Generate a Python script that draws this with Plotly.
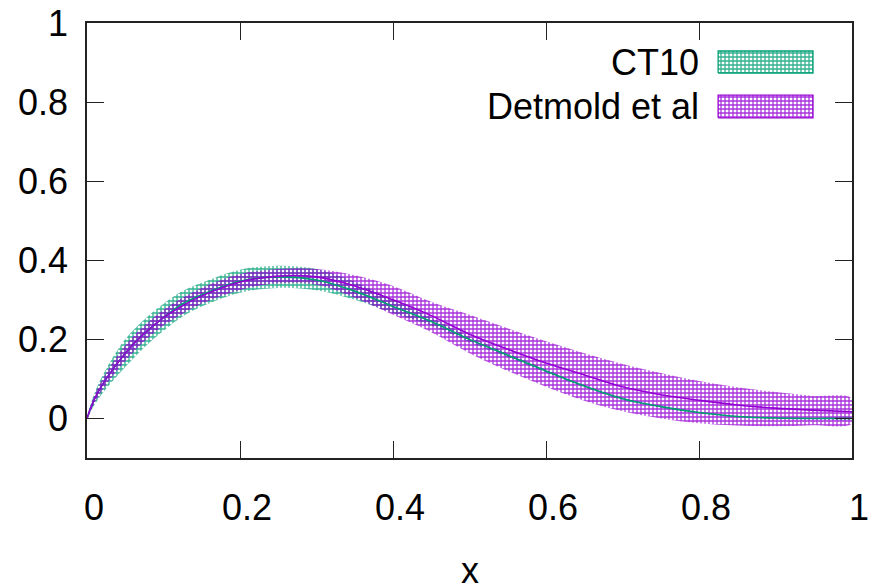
import plotly.graph_objects as go

# ---- data ----
x_vals = [0, 0.01, 0.025, 0.05, 0.075, 0.1, 0.125, 0.15, 0.2, 0.25, 0.3, 0.35, 0.4,
          0.45, 0.5, 0.55, 0.6, 0.65, 0.7, 0.75, 0.8, 0.85, 0.9, 0.95, 1.0]

ct10_center = [0, 0.05, 0.10, 0.165, 0.215, 0.255, 0.29, 0.313, 0.347, 0.358, 0.35, 0.322, 0.283,
               0.245, 0.2, 0.16, 0.12, 0.082, 0.05, 0.03, 0.015, 0.005, 0.001, 0.0, 0.0]
ct10_lower = [0, 0.035, 0.075, 0.13, 0.18, 0.222, 0.258, 0.283, 0.318, 0.33, 0.324, 0.30, 0.266,
              0.235, 0.193, 0.155, 0.116, 0.079, 0.047, 0.028, 0.013, 0.003, -0.001, -0.002, -0.002]
ct10_upper = [0, 0.065, 0.125, 0.20, 0.25, 0.29, 0.322, 0.343, 0.376, 0.386, 0.378, 0.346, 0.30,
              0.255, 0.207, 0.165, 0.124, 0.085, 0.053, 0.032, 0.017, 0.007, 0.003, 0.002, 0.002]

det_center = [0, 0.05, 0.10, 0.165, 0.215, 0.255, 0.285, 0.31, 0.345, 0.36, 0.358, 0.335, 0.30,
              0.26, 0.213, 0.175, 0.14, 0.11, 0.08, 0.06, 0.046, 0.034, 0.026, 0.021, 0.017]
det_lower = [0, 0.04, 0.085, 0.145, 0.195, 0.235, 0.265, 0.29, 0.325, 0.342, 0.338, 0.305, 0.262,
             0.218, 0.165, 0.12, 0.08, 0.045, 0.018, 0.0, -0.012, -0.018, -0.02, -0.017, -0.013]
det_upper = [0, 0.06, 0.115, 0.185, 0.235, 0.275, 0.305, 0.33, 0.365, 0.378, 0.378, 0.362, 0.335,
             0.295, 0.262, 0.228, 0.195, 0.165, 0.138, 0.115, 0.095, 0.079, 0.067, 0.057, 0.05]

series_names = ["CT10", "Detmold et al"]
x_ticks = [0, 0.2, 0.4, 0.6, 0.8, 1.0]
x_ticktext = ["0", "0.2", "0.4", "0.6", "0.8", "1"]
y_ticks = [0, 0.2, 0.4, 0.6, 0.8, 1.0]
y_ticktext = ["0", "0.2", "0.4", "0.6", "0.8", "1"]

# ---- styles ----
GREEN = "#009e73"
PURPLE = "#9400d3"
FONT = "Liberation Sans, Arial, sans-serif"
FS = 36


def pattern(color):
    return dict(shape="+", size=4, solidity=0.55, fgcolor=color, fgopacity=0.8)


def band(xs, lo, hi, color, name):
    return go.Scatter(
        x=list(xs) + list(xs)[::-1],
        y=list(hi) + list(lo)[::-1],
        fill="toself", fillcolor="rgba(0,0,0,0)", fillpattern=pattern(color),
        line=dict(width=0, shape="spline"), mode="lines", name=name, showlegend=False,
        hoverinfo="skip")


fig = go.Figure()
fig.add_trace(band(x_vals, ct10_lower, ct10_upper, GREEN, series_names[0]))
fig.add_trace(band(x_vals, det_lower, det_upper, PURPLE, series_names[1]))
fig.add_trace(go.Scatter(x=x_vals, y=ct10_center, mode="lines",
                         line=dict(color=GREEN, width=1.6, shape="spline"), showlegend=False))
fig.add_trace(go.Scatter(x=x_vals, y=det_center, mode="lines",
                         line=dict(color=PURPLE, width=1.6, shape="spline"), showlegend=False))

# ---- gnuplot-style key (text left, patterned sample right) on a helper axis in plot-fraction units ----
key_x0, key_x1 = 0.825, 0.949
key_rows = [(0.885, 0.9356, GREEN), (0.782, 0.834, PURPLE)]
for (y0, y1, col), name in zip(key_rows, series_names):
    fig.add_trace(go.Scatter(
        x=[key_x0, key_x1, key_x1, key_x0, key_x0], y=[y0, y0, y1, y1, y0],
        fill="toself", fillcolor="rgba(0,0,0,0)", fillpattern=pattern(col),
        line=dict(color=col, width=1.3), mode="lines", xaxis="x2", yaxis="y2",
        showlegend=False, hoverinfo="skip"))
    fig.add_annotation(text=name, xref="paper", yref="paper", x=0.8027, y=(y0 + y1) / 2,
                       xanchor="right", yanchor="middle", showarrow=False,
                       font=dict(family=FONT, size=FS, color="black"))

axis_common = dict(showgrid=False, zeroline=False, showline=True, mirror="ticks",
                   linecolor="#222", linewidth=1.5, ticks="inside", ticklen=17,
                   tickwidth=1.3, tickcolor="#222", automargin=False,
                   tickfont=dict(family=FONT, size=FS, color="black"))

fig.update_layout(
    width=874, height=585,
    margin=dict(l=87, r=22, t=23, b=127),
    paper_bgcolor="white", plot_bgcolor="white",
    showlegend=False,
    xaxis=dict(range=[0, 1], tickvals=x_ticks, ticktext=x_ticktext,
               ticklabelstandoff=17, ticklabelshift=7, **axis_common),
    yaxis=dict(range=[-0.1, 1], tickvals=y_ticks, ticktext=y_ticktext,
               ticklabelstandoff=10, **axis_common),
    xaxis2=dict(overlaying="x", range=[0, 1], visible=False, automargin=False),
    yaxis2=dict(overlaying="y", range=[0, 1], visible=False, automargin=False),
)

fig.add_annotation(text="x", xref="paper", yref="paper", x=0.5, y=0, yshift=-112,
                   xanchor="center", yanchor="middle", showarrow=False, height=30,
                   font=dict(family=FONT, size=FS, color="black"))

fig.write_html("out.html", config={"displayModeBar": False},
               post_script="document.body.style.margin='0';document.body.style.padding='0';")
